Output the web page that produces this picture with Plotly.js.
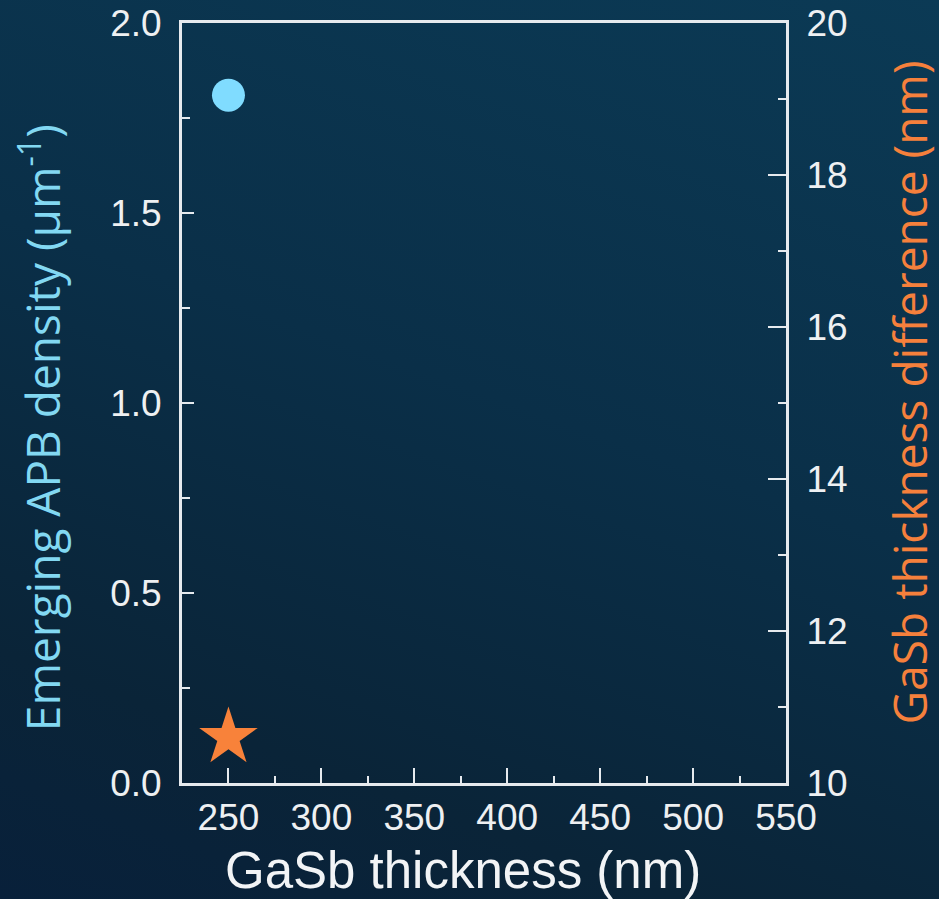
<!DOCTYPE html>
<html>
<head>
<meta charset="utf-8">
<script src="https://cdn.plot.ly/plotly-3.0.1.min.js"></script>
<style>
  html, body { margin:0; padding:0; width:939px; height:899px; overflow:hidden;
    background: linear-gradient(200deg, #0b3a55 0%, #0a2f48 45%, #0a2438 80%, #08203a 100%); }
  #chart { width:939px; height:899px; }
</style>
</head>
<body>
<div id="chart"></div>
<script>
// Data
const apbThickness = [250];      // GaSb thickness (nm)
const apbDensity   = [1.81];     // Emerging APB density (µm^-1)
const diffThickness = [250];     // GaSb thickness (nm)
const diffValues    = [10.6];    // GaSb thickness difference (nm)

const xTickVals = [250, 300, 350, 400, 450, 500, 550];
const yTickVals = [0.0, 0.5, 1.0, 1.5, 2.0];
const y2TickVals = [10, 12, 14, 16, 18, 20];

const axisColor = '#e6eaee';
const tickFont = {family: 'Liberation Sans, Arial, sans-serif', size: 37, color: '#eef0f2'};

const traces = [
  {
    x: apbThickness, y: apbDensity, xaxis: 'x', yaxis: 'y',
    type: 'scatter', mode: 'markers', name: 'APB density',
    marker: {symbol: 'circle', size: 33, color: '#80dcff'},
    hoverinfo: 'x+y'
  },
  {
    x: diffThickness, y: diffValues, xaxis: 'x', yaxis: 'y2',
    type: 'scatter', mode: 'markers', name: 'Thickness difference',
    marker: {symbol: 'star', size: 44, color: '#f8823a'},
    hoverinfo: 'x+y'
  }
];

const layout = {
  width: 939, height: 899,
  paper_bgcolor: 'rgba(0,0,0,0)',
  plot_bgcolor: 'rgba(0,0,0,0)',
  showlegend: false,
  margin: {l: 182, r: 153, t: 23, b: 116, pad: 0},
  xaxis: {
    range: [225, 550],
    tickvals: xTickVals,
    ticktext: xTickVals.map(String),
    ticks: 'inside', ticklen: 15, tickwidth: 2, tickcolor: axisColor,
    minor: {dtick: 25, tick0: 225, ticks: 'inside', ticklen: 7, tickwidth: 2, tickcolor: axisColor, showgrid: false},
    showline: true, linecolor: axisColor, linewidth: 3, mirror: true,
    showgrid: false, zeroline: false,
    tickfont: tickFont,
    ticklabelstandoff: 0
  },
  yaxis: {
    range: [0, 2.0],
    tickvals: yTickVals,
    ticktext: yTickVals.map(v => v.toFixed(1)),
    ticks: 'inside', ticklen: 12, tickwidth: 2, tickcolor: axisColor,
    minor: {dtick: 0.25, tick0: 0, ticks: 'inside', ticklen: 8, tickwidth: 2, tickcolor: axisColor, showgrid: false},
    showline: true, linecolor: axisColor, linewidth: 3,
    showgrid: false, zeroline: false,
    tickfont: tickFont,
    ticklabelstandoff: 10
  },
  yaxis2: {
    range: [10, 20],
    overlaying: 'y', side: 'right',
    tickvals: y2TickVals,
    ticktext: y2TickVals.map(String),
    ticks: 'inside', ticklen: 18, tickwidth: 2, tickcolor: axisColor,
    minor: {dtick: 1, tick0: 10, ticks: 'inside', ticklen: 8, tickwidth: 2, tickcolor: axisColor, showgrid: false},
    showline: true, linecolor: axisColor, linewidth: 3,
    showgrid: false, zeroline: false,
    tickfont: tickFont,
    ticklabelstandoff: 10
  },
  annotations: [
    {
      text: 'GaSb thickness (nm)',
      xref: 'paper', yref: 'paper',
      x: 0.465, y: -0.115, xanchor: 'center', yanchor: 'middle',
      showarrow: false,
      font: {family: 'Liberation Sans, Arial, sans-serif', size: 51, color: '#f2f4f6'}
    },
    {
      text: 'Emerging APB density (µm<sup>-1</sup>)',
      xref: 'paper', yref: 'paper', textangle: -90,
      x: -0.235, y: 0.467, xanchor: 'center', yanchor: 'middle',
      showarrow: false,
      font: {family: 'Open Sans, Noto Sans, sans-serif', size: 46, color: '#82d8f2'}
    },
    {
      text: 'GaSb thickness difference (nm)',
      xref: 'paper', yref: 'paper', textangle: -90,
      x: 1.205, y: 0.514, xanchor: 'center', yanchor: 'middle',
      showarrow: false,
      font: {family: 'Open Sans, Noto Sans, sans-serif', size: 46, color: '#f5803c'}
    }
  ]
};

Plotly.newPlot('chart', traces, layout, {displayModeBar: false, staticPlot: true});
</script>
</body>
</html>
